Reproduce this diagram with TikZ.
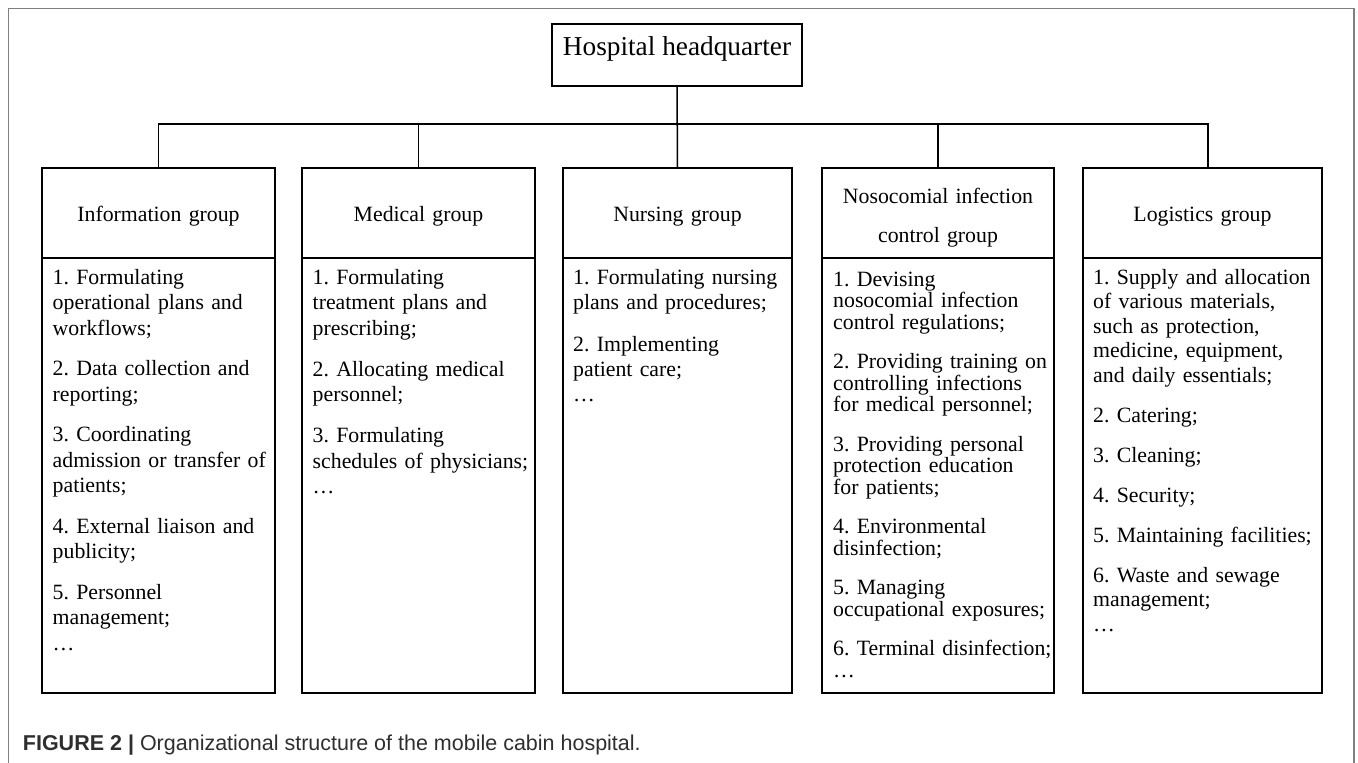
\documentclass[tikz,border=0pt]{standalone}
\usepackage{fontspec}
\setmainfont{Liberation Serif}
\newfontfamily\capfont{Liberation Sans}
\definecolor{framegray}{HTML}{808080}
\definecolor{captext}{HTML}{2E2E2E}

\begin{document}
\frenchspacing
\begin{tikzpicture}[x=1pt,y=-1pt,
  box/.style={draw=black, line width=1.5pt, rectangle, inner sep=0pt, outer sep=0pt},
  link/.style={draw=black, line width=1.5pt},
  title/.style={font=\fontsize{21.8}{39}\selectfont, anchor=base, inner sep=0pt, text width=230pt, align=center},
  duty/.style={font=\fontsize{21.8}{25.5}\selectfont, anchor=base west, inner sep=0pt, text width=250pt, align=left},
]
\useasboundingbox (0,0) rectangle (1358,763);

% page frame (open at the bottom)
\draw[framegray, line width=1.2pt] (8.5,763) -- (8.5,8.5) -- (1354,8.5) -- (1354,763);

% headquarter
\node[box, minimum width=250pt, minimum height=62pt] (hq) at (677,55) {};
\node[font=\fontsize{27.3}{30}\selectfont, anchor=base, inner sep=0pt] (hqt) at (677,55) {Hospital headquarter};

% group headers
\node[box, minimum width=233pt, minimum height=90pt] (h1) at (158.5,213) {};
\node[box, minimum width=233pt, minimum height=90pt] (h2) at (418.5,213) {};
\node[box, minimum width=229pt, minimum height=90pt] (h3) at (677.5,213) {};
\node[box, minimum width=232pt, minimum height=90pt] (h4) at (938,213) {};
\node[box, minimum width=239pt, minimum height=90pt] (h5) at (1202.5,213) {};

% group bodies
\node[box, minimum width=233pt, minimum height=435pt] (b1) at (158.5,475.5) {};
\node[box, minimum width=233pt, minimum height=435pt] (b2) at (418.5,475.5) {};
\node[box, minimum width=229pt, minimum height=435pt] (b3) at (677.5,475.5) {};
\node[box, minimum width=232pt, minimum height=435pt] (b4) at (938,475.5) {};
\node[box, minimum width=239pt, minimum height=435pt] (b5) at (1202.5,475.5) {};

% group titles
\node[title] (t1) at (158.5,221) {Information group};
\node[title] (t2) at (418.5,221) {Medical group};
\node[title] (t3) at (677.5,221) {Nursing group};
\node[title] (t4) at (938,203) {Nosocomial infection\\control group};
\node[title] (t5) at (1202.5,221) {Logistics group};

% connectors
\coordinate (bus) at (677,124);
\coordinate (j5) at ([xshift=5.5pt]h5.north);
\draw[link] (hq.south) -- (h3.north);
\draw[link] (h1.north) -- (h1.north |- bus) -- (j5 |- bus) -- (j5);
\draw[link] (h2.north) -- (h2.north |- bus);
\draw[link] (h4.north) -- (h4.north |- bus);

% duties
\node[duty] (d1) at (52.5,284) {1. Formulating\\operational plans and\\workflows;\\[15pt]
2. Data collection and\\reporting;\\[15pt]
3. Coordinating\\admission or transfer of\\patients;\\[15pt]
4. External liaison and\\publicity;\\[15pt]
5. Personnel\\management;\\…};
\node[duty] (d2) at (312.5,284) {1. Formulating\\treatment plans and\\prescribing;\\[15.5pt]
2. Allocating medical\\personnel;\\[15.5pt]
3. Formulating\\schedules of physicians;\\…};
\node[duty, font=\fontsize{21.8}{25}\selectfont] (d3) at (573,284) {1. Formulating nursing\\plans and procedures;\\[17pt]
2. Implementing\\patient care;\\…};
\node[duty, font=\fontsize{21.8}{21.5}\selectfont] (d4) at (833,286) {1. Devising\\nosocomial infection\\control regulations;\\[18pt]
2. Providing training on\\controlling infections\\for medical personnel;\\[18pt]
3. Providing personal\\protection education\\for patients;\\[18pt]
4. Environmental\\disinfection;\\[18pt]
5. Managing\\occupational exposures;\\[18pt]
6. Terminal disinfection;\\…};
\node[duty, font=\fontsize{21.8}{24.5}\selectfont] (d5) at (1093,284) {1. Supply and allocation\\of various materials,\\such as protection,\\medicine, equipment,\\and daily essentials;\\[15.5pt]
2. Catering;\\[15.5pt]
3. Cleaning;\\[15.5pt]
4. Security;\\[15.5pt]
5. Maintaining facilities;\\[15.5pt]
6. Waste and sewage\\management;\\…};

% caption
\node[anchor=base west, inner sep=0pt, text=captext, font=\capfont\fontsize{21.5}{24}\selectfont] (cap) at (22.7,750)
  {\textbf{FIGURE 2 |} Organizational structure of the mobile cabin hospital.};
\end{tikzpicture}
\end{document}
